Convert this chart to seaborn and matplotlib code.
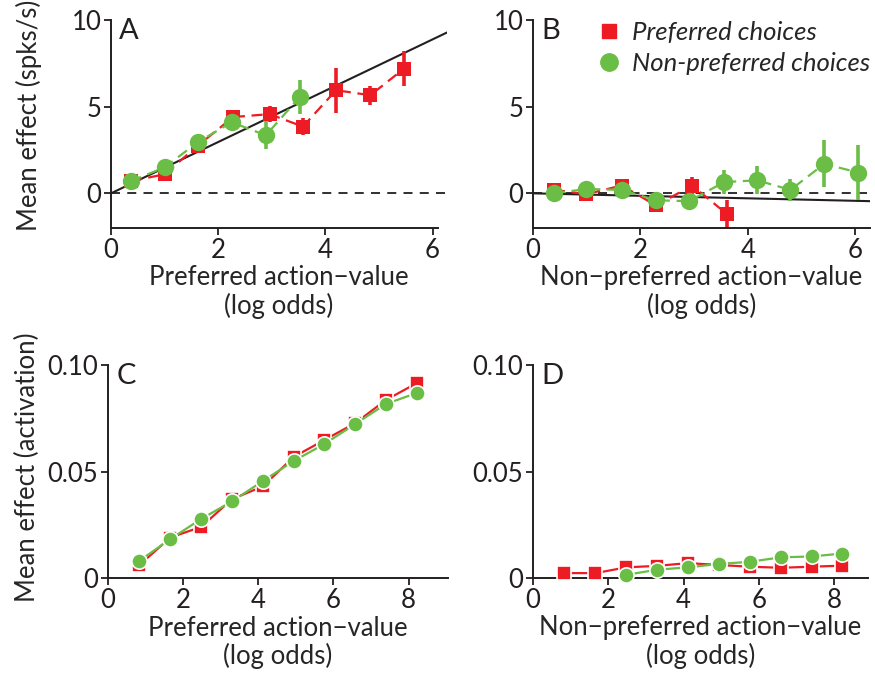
import numpy as np
import matplotlib
matplotlib.use("Agg")
import matplotlib.pyplot as plt
from matplotlib.lines import Line2D
import seaborn as sns

sns.set_style("ticks")
plt.rcParams['font.family'] = ['Lato', 'DejaVu Sans']
plt.rcParams['font.size'] = 18

RED = "#ED1C24"
GREEN = "#6ABD45"
INK = "#231F20"
FS = 18.5

# ---- panel A : preferred action-value (spikes) ----
a_red_x = [0.37, 1.0, 1.62, 2.28, 2.96, 3.58, 4.2, 4.84, 5.47]
a_red_y = [0.7, 1.1, 2.75, 4.4, 4.57, 3.85, 5.95, 5.66, 7.2]
a_red_e = [0.1, 0.15, 0.2, 0.25, 0.45, 0.5, 1.3, 0.55, 1.0]
a_grn_x = [0.37, 1.0, 1.62, 2.25, 2.89, 3.52]
a_grn_y = [0.7, 1.5, 2.95, 4.1, 3.35, 5.55]
a_grn_e = [0.1, 0.15, 0.2, 0.3, 0.8, 1.0]
a_fit = (0.0, 1.48)   # intercept, slope

# ---- panel B : non-preferred action-value (spikes) ----
b_red_x = [0.39, 0.99, 1.65, 2.29, 2.96, 3.61]
b_red_y = [0.2, -0.05, 0.45, -0.7, 0.45, -1.2]
b_red_e = [0.2, 0.2, 0.2, 0.3, 0.5, 0.8]
b_grn_x = [0.39, 0.99, 1.65, 2.29, 2.9, 3.56, 4.17, 4.79, 5.42, 6.05]
b_grn_y = [0.0, 0.25, 0.2, -0.4, -0.45, 0.65, 0.75, 0.2, 1.7, 1.2]
b_grn_e = [0.1, 0.1, 0.15, 0.2, 0.2, 0.7, 0.8, 0.65, 1.35, 1.6]
b_fit = (0.0, -0.072)

# ---- panels C / D : model activation ----
cd_x = [0.83, 1.66, 2.48, 3.3, 4.12, 4.94, 5.76, 6.58, 7.4, 8.22]
c_red_y = [0.006, 0.019, 0.024, 0.037, 0.043, 0.0568, 0.0648, 0.0727, 0.0836, 0.0915]
c_grn_y = [0.008, 0.0183, 0.0277, 0.036, 0.0455, 0.0549, 0.0629, 0.0723, 0.0817, 0.0869]
d_red_y = [0.0023, 0.0023, 0.005, 0.0057, 0.007, 0.0061, 0.0053, 0.0048, 0.0053, 0.0058]
d_grn_x = cd_x[2:]
d_grn_y = [0.0015, 0.0039, 0.005, 0.0066, 0.0076, 0.0097, 0.0101, 0.0115]

W, H = 875, 675
fig = plt.figure(figsize=(W / 100, H / 100), dpi=100)


def box(left, top, right, bottom):
    return [left / W, 1 - bottom / H, (right - left) / W, (bottom - top) / H]


def style_axes(ax, letter):
    sns.despine(ax=ax)
    for s in ("left", "bottom"):
        ax.spines[s].set_linewidth(1.4)
        ax.spines[s].set_color(INK)
    ax.tick_params(direction="out", length=5, width=1.3, colors=INK,
                   labelsize=FS, pad=2)
    ax.text(0.025, 1.01, letter, transform=ax.transAxes, ha="left", va="top",
            fontsize=21, color=INK)


def spike_series(ax, x, y, e, color, marker, ms):
    x, y, e = np.array(x), np.array(y), np.array(e)
    ax.vlines(x, y - e, y + e, color=color, lw=2.6, zorder=2)
    sns.lineplot(x=x, y=y, ax=ax, color=color, marker=marker, markersize=ms,
                 markeredgewidth=0, linestyle=(0, (5, 3)), linewidth=1.6,
                 zorder=3, clip_on=False)


def model_series(ax, x, y, color, marker, ms):
    sns.lineplot(x=x, y=y, ax=ax, color=color, marker=marker, markersize=ms,
                 markeredgecolor="white", markeredgewidth=1.2, linewidth=1.6,
                 zorder=3, clip_on=False)


xl_pref = "Preferred action\u2212value\n(log odds)"
xl_non = "Non\u2212preferred action\u2212value\n(log odds)"

# A
axA = fig.add_axes(box(111, 20, 447, 228))
xs = np.array([0, 6.27])
axA.plot(xs, a_fit[0] + a_fit[1] * xs, color=INK, lw=1.5, zorder=1)
axA.axhline(0, color=INK, lw=1.3, ls=(0, (5, 4)), zorder=1)
spike_series(axA, a_red_x, a_red_y, a_red_e, RED, "s", 10)
spike_series(axA, a_grn_x, a_grn_y, a_grn_e, GREEN, "o", 12.5)
axA.set_xlim(0, 6.27)
axA.set_ylim(-2, 10)
axA.set_xticks([0, 2, 4, 6])
axA.set_yticks([0, 5, 10])
axA.set_xlabel(xl_pref, fontsize=FS, labelpad=2, linespacing=1.1)
axA.set_ylabel("Mean effect (spks/s)", fontsize=FS)
axA.yaxis.set_label_coords(-0.205, 0.54)
style_axes(axA, "A")
axA.spines["bottom"].set_bounds(0, 6.1)

# B
axB = fig.add_axes(box(533, 20, 870, 228))
axB.plot(xs, b_fit[0] + b_fit[1] * xs, color=INK, lw=1.5, zorder=1)
axB.axhline(0, color=INK, lw=1.3, ls=(0, (5, 4)), zorder=1)
spike_series(axB, b_red_x, b_red_y, b_red_e, RED, "s", 10)
spike_series(axB, b_grn_x, b_grn_y, b_grn_e, GREEN, "o", 12.5)
axB.set_xlim(0, 6.27)
axB.set_ylim(-2, 10)
axB.set_xticks([0, 2, 4, 6])
axB.set_yticks([0, 5, 10])
axB.set_xlabel(xl_non, fontsize=FS, labelpad=2, linespacing=1.1)
axB.set_ylabel("")
style_axes(axB, "B")
handles = [Line2D([], [], color=RED, marker="s", ls="none", markersize=10),
           Line2D([], [], color=GREEN, marker="o", ls="none", markersize=12.5)]
axB.legend(handles, ["Preferred choices", "Non-preferred choices"],
           loc="upper left", bbox_to_anchor=(0.11, 1.105), frameon=False,
           prop={"style": "italic", "size": FS}, handletextpad=0.3,
           labelspacing=0.3, handlelength=1.2)

# C
axC = fig.add_axes(box(108, 365, 448, 578))
model_series(axC, cd_x, c_red_y, RED, "s", 9.5)
model_series(axC, cd_x, c_grn_y, GREEN, "o", 11)
axC.set_xlim(0, 9.05)
axC.set_ylim(0, 0.1)
axC.set_xticks([0, 2, 4, 6, 8])
axC.set_yticks([0, 0.05, 0.1])
axC.set_yticklabels(["0", "0.05", "0.10"])
axC.set_xlabel(xl_pref, fontsize=FS, labelpad=2, linespacing=1.1)
axC.set_ylabel("Mean effect (activation)", fontsize=FS)
axC.yaxis.set_label_coords(-0.2, 0.52)
style_axes(axC, "C")

# D
axD = fig.add_axes(box(533, 365, 868, 578))
model_series(axD, cd_x, d_red_y, RED, "s", 9.5)
model_series(axD, d_grn_x, d_grn_y, GREEN, "o", 11)
axD.set_xlim(0, 8.9)
axD.set_ylim(0, 0.1)
axD.set_xticks([0, 2, 4, 6, 8])
axD.set_yticks([0, 0.05, 0.1])
axD.set_yticklabels(["0", "0.05", "0.10"])
axD.set_xlabel(xl_non, fontsize=FS, labelpad=2, linespacing=1.1)
axD.set_ylabel("")
style_axes(axD, "D")

fig.savefig("out.png", dpi=100)
